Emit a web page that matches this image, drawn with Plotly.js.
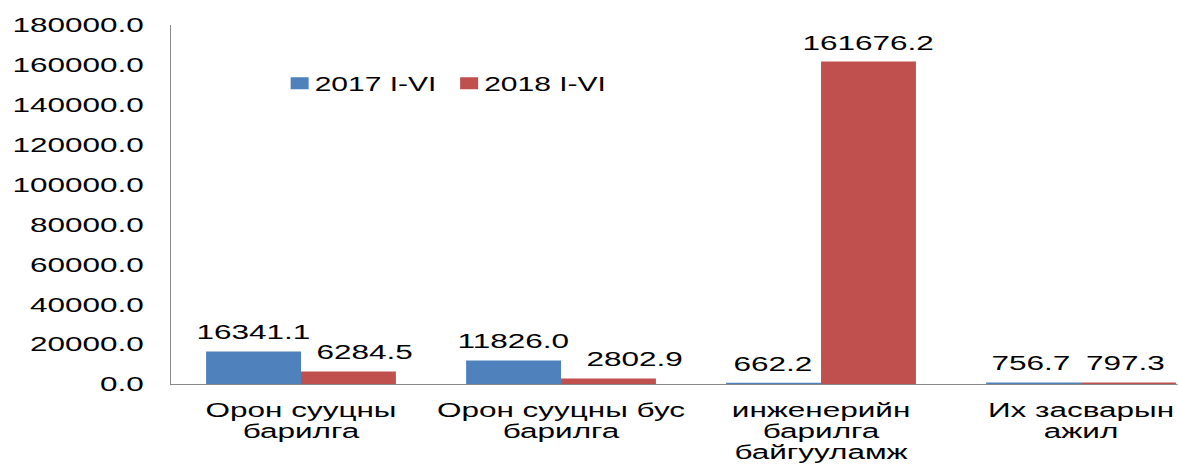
<!DOCTYPE html>
<html>
<head>
<meta charset="utf-8">
<script src="https://cdn.plot.ly/plotly-3.0.1.min.js"></script>
<style>
  html, body { margin: 0; padding: 0; overflow: hidden; background: #fff; }
  #chart { width: 785px; height: 466px; transform: scaleX(1.5); transform-origin: 0 0; }
</style>
</head>
<body>
<div id="chart"></div>
<script>
// ---- data ----
const categories = ['Орон сууцны<br>барилга', 'Орон сууцны бус<br>барилга', 'инженерийн<br>барилга<br>байгууламж', 'Их засварын<br>ажил'];
const seriesNames = ['2017 I-VI', '2018 I-VI'];
const values2017 = [16341.1, 11826.0, 662.2, 756.7];
const values2018 = [6284.5, 2802.9, 161676.2, 797.3];
const seriesColors = ['#4F81BD', '#C0504D'];

// ---- style ----
const FONT = 'Liberation Sans, Arial, sans-serif';
const bargap = 0.27;
const barW = (1 - bargap) / 2;
// label nudges (px, pre-stretch) to avoid overlapping neighbouring labels
const labelNudge = [[0, 0, 0, -2], [11, 17, 0, -2]];

const allSeries = [values2017, values2018];
const traces = allSeries.map((vals, s) => {
  const t = {
    type: 'bar',
    name: seriesNames[s],
    x: categories,
    y: vals,
    marker: { color: seriesColors[s] },
    hoverinfo: 'none'
  };
  if (s === 0) t.legendwidth = 68;
  return t;
});

const annotations = [];
allSeries.forEach((vals, s) => {
  const off = (s === 0 ? -1 : 1) * barW / 2;
  vals.forEach((v, i) => {
    annotations.push({
      x: i + off, y: v, xref: 'x', yref: 'y',
      text: v.toFixed(1), showarrow: false,
      yanchor: 'bottom', xanchor: 'center', yshift: 6, xshift: labelNudge[s][i],
      font: { family: FONT, size: 21, color: '#000' }
    });
  });
});

const layout = {
  width: 785, height: 466,
  margin: { l: 114, r: 0, t: 25, b: 82 },
  paper_bgcolor: '#fff', plot_bgcolor: '#fff',
  barmode: 'group', bargap: bargap, bargroupgap: 0,
  font: { family: FONT, size: 21, color: '#000' },
  showlegend: true,
  legend: {
    orientation: 'h', x: 0.098, xanchor: 'left', y: 0.838, yanchor: 'middle',
    font: { family: FONT, size: 20, color: '#000' },
    bgcolor: 'rgba(0,0,0,0)', traceorder: 'normal'
  },
  xaxis: {
    type: 'category', range: [-0.5, 3.371], fixedrange: true,
    showline: true, linecolor: '#898989', linewidth: 1,
    showgrid: false, zeroline: false, ticks: '', tickangle: 0,
    ticklabelstandoff: 7,
    tickfont: { family: FONT, size: 21, color: '#000' }
  },
  yaxis: {
    range: [0, 180000], dtick: 20000, tick0: 0, tickformat: '.1f',
    showline: true, linecolor: '#898989', linewidth: 1,
    showgrid: false, zeroline: false, ticks: '',
    ticklabelstandoff: 13,
    tickfont: { family: FONT, size: 21, color: '#000' }
  },
  annotations: annotations
};

Plotly.newPlot('chart', traces, layout, { displayModeBar: false, staticPlot: true }).then(() => {
  // tighten line spacing of the multi-line category labels
  document.querySelectorAll('#chart .xtick text tspan.line').forEach((t) => {
    const dy = parseFloat(t.getAttribute('dy'));
    if (dy > 0) t.setAttribute('dy', (dy * 1.0 / 1.3).toFixed(3) + 'em');
  });
  // bring legend texts closer to their colour keys
  document.querySelectorAll('#chart .legendtext').forEach((t) => {
    const x = parseFloat(t.getAttribute('x'));
    if (!isNaN(x)) {
      t.setAttribute('x', x - 10);
      t.querySelectorAll('tspan.line').forEach((sp) => sp.setAttribute('x', x - 10));
    }
  });
});
</script>
</body>
</html>
